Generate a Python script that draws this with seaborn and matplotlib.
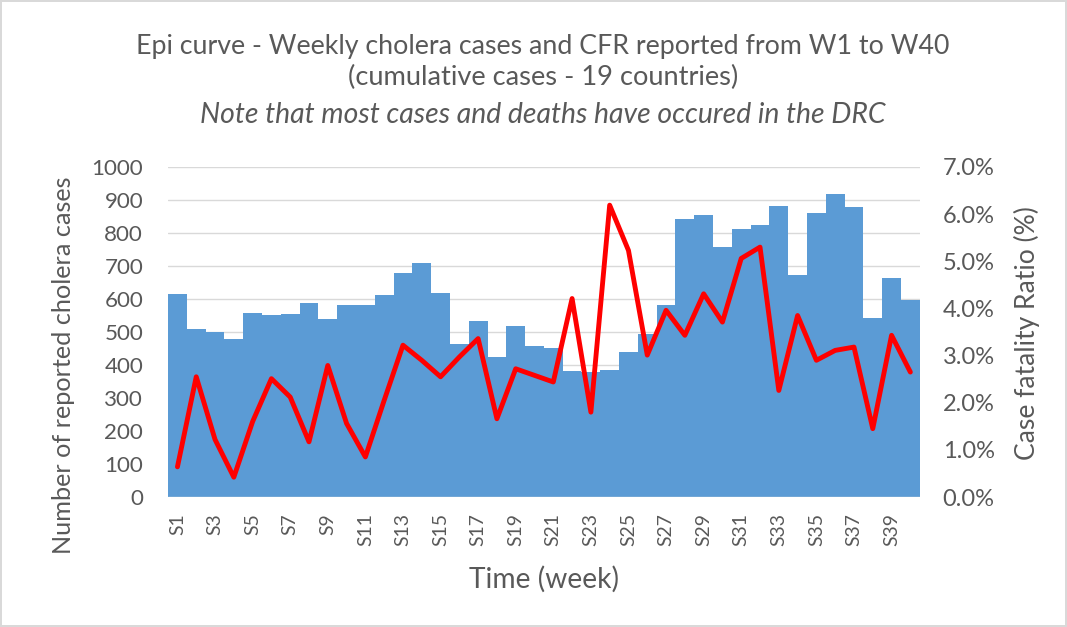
import matplotlib
matplotlib.use("Agg")
import matplotlib.pyplot as plt
from matplotlib.ticker import PercentFormatter
import numpy as np
import pandas as pd
import seaborn as sns

# weekly data
weeks = ["S%d" % i for i in range(1, 41)]
cases = [614, 509, 499, 480, 558, 553, 556, 588, 538, 581,
         581, 612, 680, 708, 619, 465, 533, 423, 519, 458,
         450, 383, 380, 386, 438, 495, 581, 841, 853, 758,
         812, 824, 883, 672, 860, 917, 878, 541, 665, 597]
cfr = [0.64, 2.55, 1.22, 0.42, 1.60, 2.51, 2.12, 1.17, 2.79, 1.56,
       0.85, 2.05, 3.22, 2.90, 2.55, 2.97, 3.36, 1.66, 2.72, 2.58,
       2.44, 4.21, 1.80, 6.19, 5.23, 3.01, 3.96, 3.43, 4.31, 3.71,
       5.06, 5.30, 2.26, 3.85, 2.90, 3.11, 3.18, 1.45, 3.43, 2.65]

df = pd.DataFrame({"week": weeks, "cases": cases, "cfr": np.array(cfr) / 100})
df["pos"] = np.arange(len(df))

sns.set_theme(style="white")
plt.rcParams["font.family"] = ["Lato", "DejaVu Sans"]
grey = "#595959"

fig = plt.figure(figsize=(10.67, 6.27), dpi=100)
fig.patch.set_edgecolor("#D9D9D9")
fig.patch.set_linewidth(1.5)
ax = fig.add_axes([0.1575, 0.2073, 0.7045, 0.5264])

sns.barplot(data=df, x="week", y="cases", color="#5B9BD5", saturation=1,
            width=1.0, linewidth=0, ax=ax, zorder=2)
ax.set_xlim(-0.5, len(df) - 0.5)
ax.set_ylim(0, 1000)
ax.set_yticks(range(0, 1001, 100))
ax.yaxis.grid(True, color="#D9D9D9", linewidth=1)
ax.set_axisbelow(True)
for s in ax.spines.values():
    s.set_visible(False)
ax.axhline(0, color="#D9D9D9", linewidth=1, zorder=3)

ax.set_xticks(df["pos"][::2])
ax.set_xticklabels(df["week"][::2], rotation=90)
ax.tick_params(axis="y", colors=grey, labelsize=15, length=0, pad=18)
ax.tick_params(axis="x", colors=grey, labelsize=14, length=0, pad=11.5)
ax.set_xlabel("Time (week)", fontsize=18, color=grey)
ax.xaxis.label.set_va("center")
ax.xaxis.set_label_coords(0.5, -0.248)
ax.set_ylabel("Number of reported cholera cases", fontsize=18, color=grey)
ax.yaxis.label.set_va("center")
ax.yaxis.set_label_coords(-0.1396, 0.40)

ax2 = ax.twinx()
sns.lineplot(data=df, x="pos", y="cfr", color="#FF0000", linewidth=3.5,
             ax=ax2, zorder=4)
ax2.set_ylim(0, 0.07)
ax2.set_yticks(np.arange(0, 0.0701, 0.01))
ax2.yaxis.set_major_formatter(PercentFormatter(1.0, decimals=1))
ax2.tick_params(axis="y", colors=grey, labelsize=15, length=0, pad=16.5)
ax2.set_ylabel("Case fatality Ratio (%)", fontsize=18, color=grey)
ax2.yaxis.label.set_va("center")
ax2.yaxis.set_label_coords(1.142, 0.497)
ax2.set_xlabel("")
for s in ax2.spines.values():
    s.set_visible(False)
ax2.grid(False)
ax2.set_xlim(-0.5, len(df) - 0.5)

t1 = fig.text(0.509, 0.9266, "Epi curve - Weekly cholera cases and CFR reported from W1 to W40",
              ha="center", va="center", fontsize=18, color=grey)
t2 = fig.text(0.509, 0.877, "(cumulative cases - 19 countries)",
              ha="center", va="center", fontsize=18, color=grey)
t3 = fig.text(0.509, 0.8166, "Note that most cases and deaths have occured in the DRC",
              ha="center", va="center", fontsize=19, color=grey, style="italic")

# scale font sizes so text spans the same pixel lengths as in the reference
fig.canvas.draw()
r = fig.canvas.get_renderer()


def fit(txt, target, vertical=False):
    bb = txt.get_window_extent(r)
    size = bb.height if vertical else bb.width
    return txt.get_fontsize() * target / size


for txt, target in [(t1, 811), (t2, 390), (t3, 687)]:
    txt.set_fontsize(fit(txt, target))
ax.xaxis.label.set_fontsize(fit(ax.xaxis.label, 150))
ax.yaxis.label.set_fontsize(fit(ax.yaxis.label, 377, vertical=True))
ax2.yaxis.label.set_fontsize(fit(ax2.yaxis.label, 253, vertical=True))

ylab = [t for t in ax.get_yticklabels() if t.get_text() == "1000"][0]
ax.tick_params(axis="y", labelsize=fit(ylab, 52))
y2lab = [t for t in ax2.get_yticklabels() if t.get_text().startswith("7.0")][0]
ax2.tick_params(axis="y", labelsize=fit(y2lab, 52))
xlab = [t for t in ax.get_xticklabels() if t.get_text() == "S19"][0]
ax.tick_params(axis="x", labelsize=fit(xlab, 33, vertical=True))

fig.savefig("out.png", dpi=100, edgecolor=fig.get_edgecolor())
